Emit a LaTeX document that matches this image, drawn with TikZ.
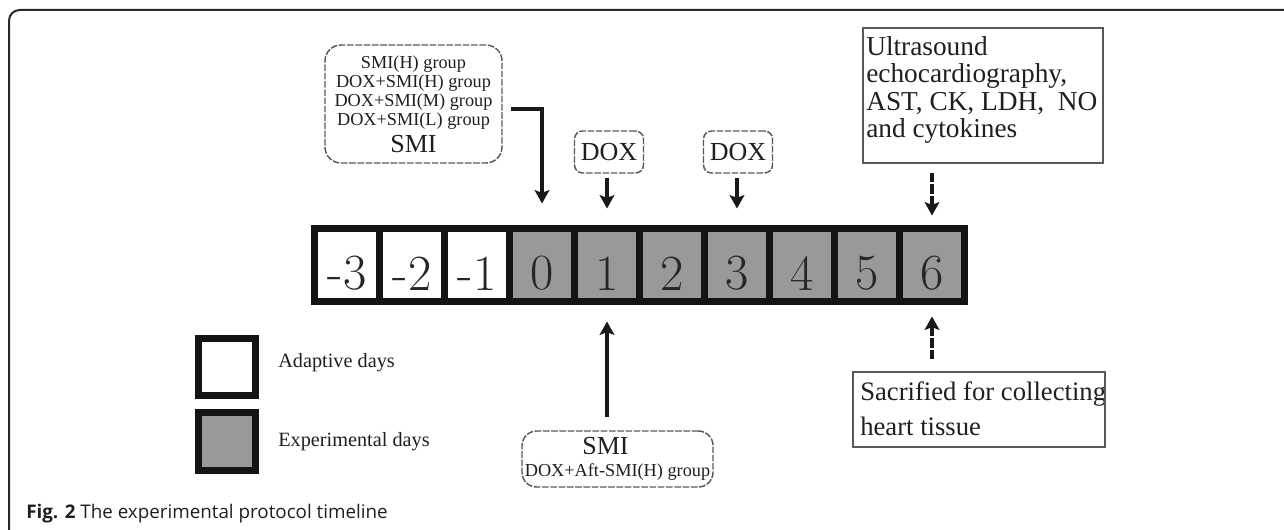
\documentclass[tikz,border=0pt]{standalone}
\usepackage{fontspec}
\newfontfamily\labelfont{Liberation Serif}
\newfontfamily\capfont{Open Sans}
\usetikzlibrary{arrows.meta,calc,fit}
\definecolor{cellgray}{RGB}{153,153,153}
\definecolor{frameline}{RGB}{40,40,40}
\newcommand\dg[1]{\raisebox{-6pt}[\height][\depth]{#1}}
\begin{document}
\begin{tikzpicture}[x=0.75pt,y=-0.75pt,
  cell/.style={draw=black!92, line width=5.25pt, minimum width=48.75pt, minimum height=54.75pt,
    inner sep=0pt, font=\fontsize{38}{38}\selectfont, text=black!85},
  adapt/.style={cell, fill=white},
  expt/.style={cell, fill=cellgray},
  legwhite/.style={draw=black!92, line width=5.25pt, minimum size=42.75pt, inner sep=0pt, fill=white},
  leggray/.style={legwhite, fill=cellgray},
  dbox/.style={draw=black!65, dash pattern=on 5pt off 1.2pt, line width=1.1pt, inner sep=0pt},
  sbox/.style={draw=black!65, line width=1.1pt, inner sep=0pt},
  arr/.style={-{Stealth[length=10pt,width=11pt,inset=2pt]}, line width=2.4pt, draw=black!90},
  darr/.style={arr, dash pattern=on 7pt off 1.6pt},
  lbl/.style={font=\labelfont, text=black!88, inner sep=0pt}
]
\useasboundingbox (0,0) rectangle (1284,530);
% outer frame
\draw[frameline, line width=1.5pt, rounded corners=8pt] (9,530) -- (9,10) -- (1284,10);

% timeline cells
\node[adapt] (m3) at (347,265.5) {\dg{-3}};
\node[adapt] (m2) at (412,265.5) {\dg{-2}};
\node[adapt] (m1) at (477,265.5) {\dg{-1}};
\node[expt] (d0) at (542,265.5) {\dg{0}};
\node[expt] (d1) at (607,265.5) {\dg{1}};
\node[expt] (d2) at (672,265.5) {\dg{2}};
\node[expt] (d3) at (737,265.5) {\dg{3}};
\node[expt] (d4) at (802,265.5) {\dg{4}};
\node[expt] (d5) at (867,265.5) {\dg{5}};
\node[expt] (d6) at (932,265.5) {\dg{6}};

% top SMI box
\node[dbox, rounded corners=12pt, minimum width=132.75pt, minimum height=88.5pt,
  lbl, align=center, font=\labelfont\fontsize{13.7}{14.4}\selectfont] (smi) at (413.5,104)
  {SMI(H) group\\DOX+SMI(H) group\\DOX+SMI(M) group\\DOX+SMI(L) group\\[3pt]{\fontsize{19.5}{20}\selectfont SMI}};
\draw[arr] ($(smi.east)+(8,5)$) -| ($(d0.north)+(0,-22)$);

% DOX boxes
\node[dbox, rounded corners=6pt, minimum width=51.75pt, minimum height=31.5pt,
  lbl, font=\labelfont\fontsize{19.5}{20}\selectfont] (dox1) at (609,152) {DOX};
\node[dbox, rounded corners=6pt, minimum width=51.75pt, minimum height=31.5pt,
  lbl, font=\labelfont\fontsize{19.5}{20}\selectfont] (dox2) at (738,152) {DOX};
\draw[arr] ($(dox1.south -| d1.north)+(0,4)$) -- ($(d1.north)+(0,-17)$);
\draw[arr] ($(dox2.south -| d3.north)+(0,4)$) -- ($(d3.north)+(0,-17)$);

% ultrasound box
\node[lbl, anchor=north west, align=left, font=\labelfont\fontsize{20.5}{20.6}\selectfont] (ust) at (866,36)
  {Ultrasound\\echocardiography,\\AST, CK, LDH,\ \ NO\\and cytokines};
\node[sbox, fit={(863,28) (1103,163)}] (us) {};
\draw[darr] ($(us.south -| d6.north)+(0,9)$) -- ($(d6.north)+(0,-10)$);

% sacrificed box
\node[lbl, anchor=north west, align=left, font=\labelfont\fontsize{20}{26.25}\selectfont] (sact) at (860,381)
  {Sacrified for collecting\\heart tissue};
\node[sbox, fit={(853,372) (1105,447)}] (sac) {};
\draw[darr] ($(sac.north -| d6.south)+(0,-12)$) -- ($(d6.south)+(0,11)$);

% bottom SMI box
\node[dbox, rounded corners=11pt, minimum width=143.25pt, minimum height=42pt,
  lbl, align=center, font=\labelfont\fontsize{13.7}{16.5}\selectfont] (smib) at (617.5,459)
  {\hspace*{-18pt}{\fontsize{19.5}{16.5}\selectfont SMI}\\DOX+Aft-SMI(H) group};
\draw[arr] ($(smib.north -| d1.south)+(0,-13)$) -- ($(d1.south)+(0,16)$);

% legend
\node[legwhite] (lw) at (226.5,367.5) {};
\node[leggray] (lg) at (226.5,441.5) {};
\node[lbl, anchor=west, font=\labelfont\fontsize{15.2}{16}\selectfont] (lwt) at (278,363) {Adaptive days};
\node[lbl, anchor=west, font=\labelfont\fontsize{15.2}{16}\selectfont] (lgt) at (278,442) {Experimental days};

% caption
\node[anchor=base west, inner sep=0pt, font=\capfont\fontsize{14.1}{15}\selectfont, text=black!88] (cap) at (26,518)
  {\textbf{Fig. 2} The experimental protocol timeline};
\end{tikzpicture}
\end{document}
